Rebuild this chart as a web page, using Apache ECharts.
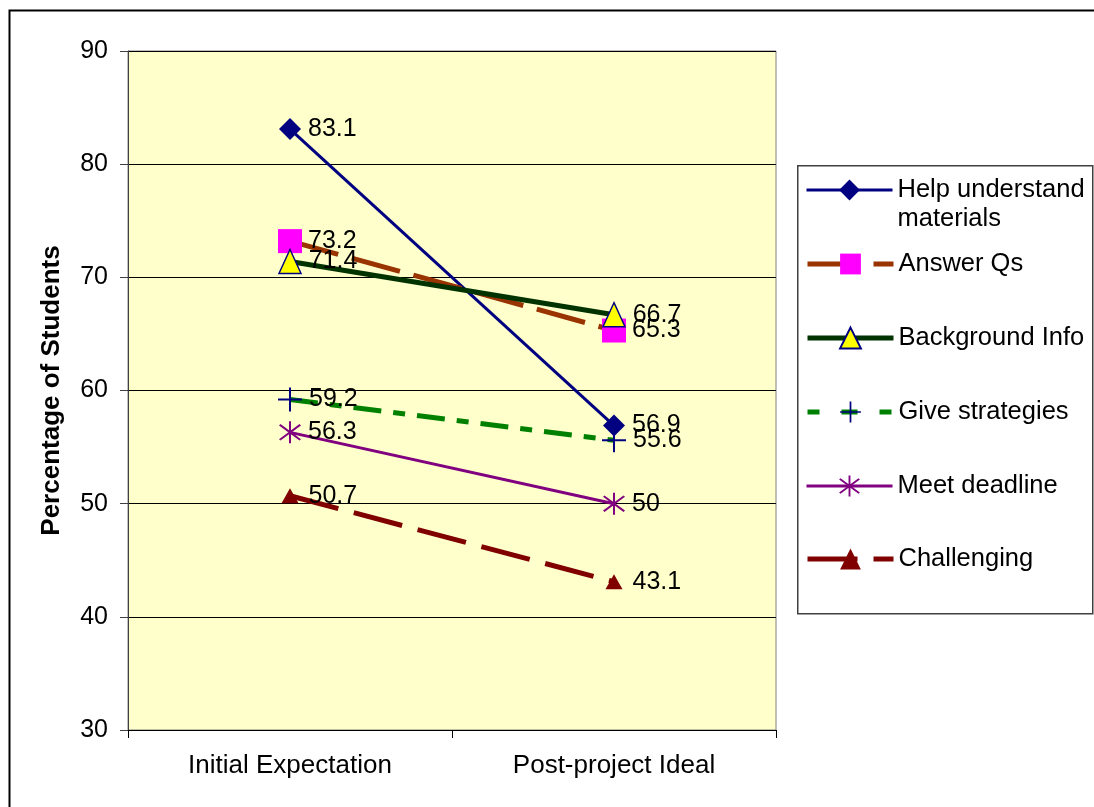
<!DOCTYPE html>
<html>
<head>
<meta charset="utf-8">
<script src="https://cdn.jsdelivr.net/npm/echarts@6/dist/echarts.min.js"></script>
<style>
  html, body { margin: 0; padding: 0; background: #fff; }
  #chart { width: 1094px; height: 807px; }
</style>
</head>
<body>
<div id="chart"></div>
<script>
// data
const categories = ['Initial Expectation', 'Post-project Ideal'];
const helpUnderstand = [83.1, 56.9];
const answerQs = [73.2, 65.3];
const backgroundInfo = [71.4, 66.7];
const giveStrategies = [59.2, 55.6];
const meetDeadline = [56.3, 50];
const challenging = [50.7, 43.1];
const yTicks = { min: 30, max: 90, step: 10 };

const FONT = '"Liberation Sans", Arial, sans-serif';
const plusPath = 'path://M11,0h2v11h11v2h-11v11h-2v-11h-11v-2h11z';
const starPath = 'path://M11,0h2v24h-2zM1,4.5L2.5,3L23,19.5L21.5,21zM21.5,3L23,4.5L2.5,21L1,19.5z';

function labelStyle(dist) {
  return {
    show: true, position: 'right', distance: dist,
    color: '#000', fontSize: 25, fontFamily: FONT
  };
}

function line(name, data, dist, opts) {
  return Object.assign({
    name: name,
    type: 'line',
    data: data,
    label: labelStyle(dist),
    symbolKeepAspect: false,
    emphasis: { disabled: true }
  }, opts);
}

const series = [
  line('Help understand materials', helpUnderstand, 7, {
    symbol: 'diamond', symbolSize: 22,
    lineStyle: { color: '#000080', width: 3 },
    itemStyle: { color: '#000080' }
  }),
  line('Answer Qs', answerQs, 6, {
    symbol: 'rect', symbolSize: 24,
    lineStyle: { color: '#993300', width: 5, type: [50, 14] },
    itemStyle: { color: '#FF00FF' }
  }),
  line('Background Info', backgroundInfo, 7, {
    symbol: 'triangle', symbolSize: [22, 24],
    lineStyle: { color: '#003300', width: 5 },
    itemStyle: { color: '#FFFF00', borderColor: '#000080', borderWidth: 1.5 }
  }),
  line('Give strategies', giveStrategies, 7, {
    symbol: plusPath, symbolSize: 24,
    lineStyle: { color: '#008000', width: 5, type: [28, 12, 12, 12] },
    itemStyle: { color: '#000080' }
  }),
  line('Meet deadline', meetDeadline, 7, {
    symbol: starPath, symbolSize: 22,
    lineStyle: { color: '#800080', width: 3 },
    itemStyle: { color: '#800080' }
  }),
  line('Challenging', challenging, 10, {
    symbol: 'triangle', symbolSize: [17, 15],
    lineStyle: { color: '#800000', width: 5, type: [50, 16] },
    itemStyle: { color: '#800000' }
  })
];

// legend dash patterns as they look in the reference's key
const legendDash = [null, [52, 14], null, [12, 22, 16, 22], null, [50, 16]];

// one legend per row so each row sits where the reference puts it
const legendRows = [190, 264, 338, 412, 486, 559];
const legends = series.map(function (s, i) {
  const multi = i === 0;
  const ls = { width: s.lineStyle.width };
  if (legendDash[i]) ls.type = legendDash[i];
  return {
    data: [s.name],
    orient: 'vertical',
    left: 805,
    top: multi ? legendRows[i] - 43.5 : legendRows[i] - 14.5,
    itemWidth: 86,
    itemHeight: 26,
    itemGap: 0,
    padding: 0,
    selectedMode: false,
    lineStyle: ls,
    formatter: function (n) {
      // blank first line keeps the icon level with "Help understand"
      return n === 'Help understand materials' ? ' \nHelp understand\nmaterials' : n;
    },
    textStyle: { color: '#000', fontSize: 25.5, fontFamily: FONT, lineHeight: 29 }
  };
});

const chart = echarts.init(document.getElementById('chart'));
chart.setOption({
  backgroundColor: '#fff',
  animation: false,
  textStyle: { fontFamily: FONT },
  graphic: [
    { type: 'rect', left: 7, top: 8, shape: { width: 1200, height: 1000 },
      style: { fill: 'none', stroke: '#000', lineWidth: 2 }, z: 100 },
    { type: 'rect', left: 797, top: 165, shape: { width: 295, height: 448 },
      style: { fill: '#fff', stroke: '#404040', lineWidth: 1.5 }, z: -1 }
  ],
  legend: legends,
  grid: {
    left: 128, top: 51, right: 318, bottom: 77,
    show: true, backgroundColor: '#FFFFCC', borderColor: '#808080', borderWidth: 1
  },
  xAxis: {
    type: 'category',
    data: categories,
    boundaryGap: true,
    axisLine: { lineStyle: { color: '#000', width: 1 } },
    axisTick: { show: true, length: 8, lineStyle: { color: '#000' } },
    axisLabel: { color: '#000', fontSize: 26, fontFamily: FONT, margin: 23 }
  },
  yAxis: {
    type: 'value',
    min: yTicks.min, max: yTicks.max, interval: yTicks.step,
    name: 'Percentage of Students',
    nameLocation: 'middle',
    nameGap: 63,
    nameTextStyle: { color: '#000', fontSize: 26, fontWeight: 'bold', fontFamily: FONT },
    axisLine: { show: true, lineStyle: { color: '#404040', width: 1 } },
    axisTick: { show: true, length: 8, lineStyle: { color: '#404040' } },
    axisLabel: { color: '#000', fontSize: 25, fontFamily: FONT, margin: 20 },
    splitLine: { lineStyle: { color: '#000', width: 1 } }
  },
  series: series
});
</script>
</body>
</html>
